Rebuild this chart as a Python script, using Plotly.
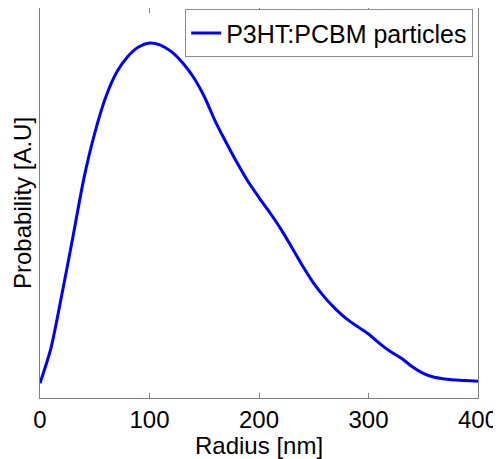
"""
Particle size distribution of P3HT:PCBM particles
"""

import plotly.graph_objects as go

# radius in nm, probability in arbitrary units
radius = [0, 10, 20, 30, 40, 50, 60, 70, 80, 90, 100, 110, 120, 130, 140,
          150, 160, 170, 180, 190, 200, 210, 220, 230, 240, 250, 260, 270,
          280, 290, 300, 310, 320, 330, 340, 350, 360, 370, 380, 400]
probability = [0.038, 0.128, 0.266, 0.412, 0.562, 0.679, 0.771, 0.835, 0.875,
               0.900, 0.910, 0.905, 0.888, 0.860, 0.823, 0.773, 0.710, 0.655,
               0.603, 0.555, 0.514, 0.475, 0.433, 0.386, 0.338, 0.294, 0.258,
               0.228, 0.203, 0.183, 0.164, 0.140, 0.119, 0.102, 0.080, 0.063,
               0.053, 0.049, 0.046, 0.043]
x_ticks = [0, 100, 200, 300, 400]

FONT = "Liberation Sans, Arial, sans-serif"

fig = go.Figure(go.Scatter(
    x=radius,
    y=probability,
    mode='lines',
    line=dict(color='#0000ff', width=3, shape='spline', smoothing=0.8),
    name='P3HT:PCBM particles'
))

# page body adds an 8px offset, so the figure is 8px smaller and margins shifted
fig.update_layout(
    width=493,
    height=451,
    margin=dict(l=32, r=23, t=0, b=61),
    paper_bgcolor='white',
    plot_bgcolor='white',
    font=dict(family=FONT, size=24, color='black'),
    showlegend=True,
    legend=dict(
        x=0.989, y=0.997, xanchor='right', yanchor='top',
        bgcolor='white', bordercolor='#8c8c8c', borderwidth=1,
        font=dict(size=25), itemwidth=30, tracegroupgap=0
    ),
    xaxis=dict(
        range=[0, 400],
        tickvals=x_ticks,
        ticks='inside', ticklen=5, tickcolor='#808080',
        showline=True, linecolor='#808080', linewidth=1, mirror='ticks',
        showgrid=False, zeroline=False, automargin=False,
        tickfont=dict(size=24),
    ),
    yaxis=dict(
        range=[0, 1],
        showticklabels=False, ticks='',
        showline=True, linecolor='#808080', linewidth=1, mirror=True,
        showgrid=False, zeroline=False, automargin=False
    ),
    annotations=[
        dict(
            text='Probability [A.U]', textangle=-90,
            xref='paper', yref='paper', x=0, y=0.5,
            xanchor='center', yanchor='middle', xshift=-18,
            showarrow=False, font=dict(size=24)
        ),
        dict(
            text='Radius [nm]',
            xref='paper', yref='paper', x=0.5, y=0,
            xanchor='center', yanchor='middle', yshift=-47,
            showarrow=False, font=dict(size=24)
        ),
    ]
)

fig.write_html("out.html")
